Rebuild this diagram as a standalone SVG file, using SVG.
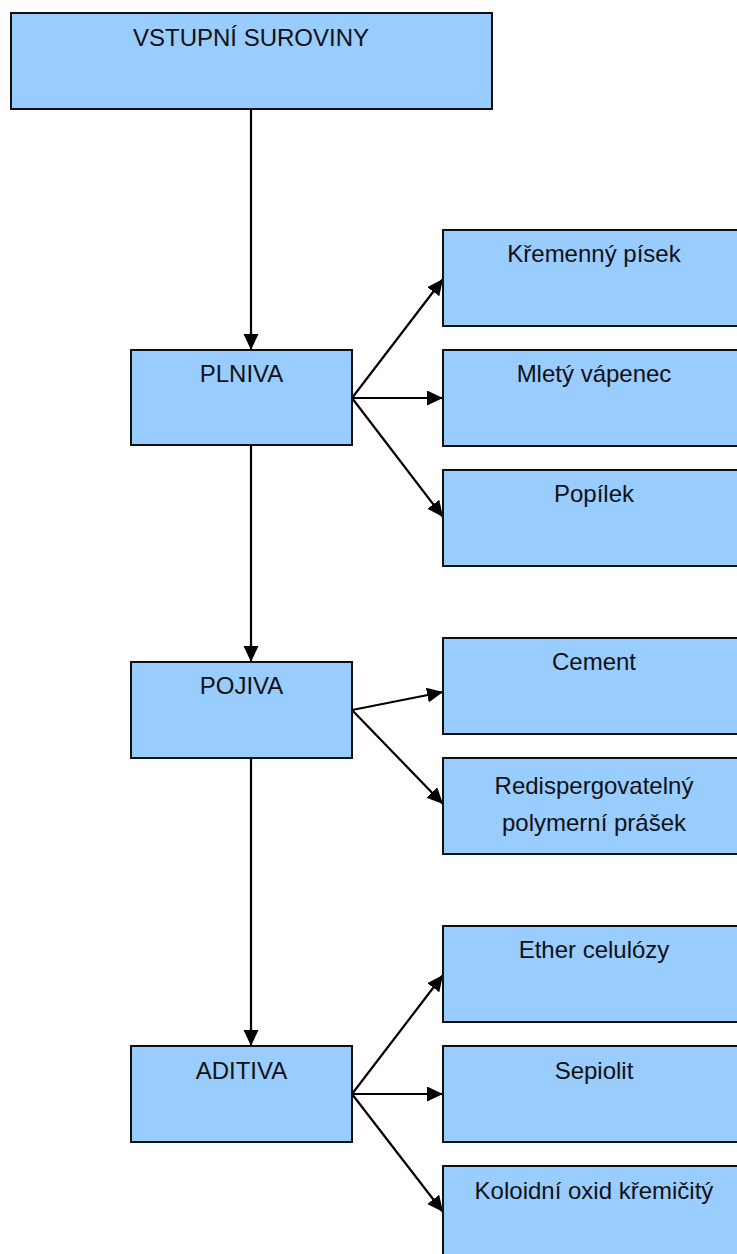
<svg xmlns="http://www.w3.org/2000/svg" width="737" height="1254" viewBox="0 0 737 1254">
<style>
.box{fill:#99CCFF;stroke:#111;stroke-width:2}
.lbl{font-family:"Liberation Sans",Arial,sans-serif;font-size:24px;fill:#111;text-anchor:middle}
.edge{stroke:#000;stroke-width:2.2;fill:none;marker-end:url(#ah)}
</style>
<defs>
<marker id="ah" markerUnits="userSpaceOnUse" markerWidth="17" markerHeight="16" refX="16" refY="7.5" orient="auto">
<path d="M0,0 L16,7.5 L0,15 z" fill="#000"/>
</marker>
</defs>
<rect width="737" height="1254" fill="#fff"/>
<g id="connectors">
<line class="edge" x1="251" y1="109" x2="251" y2="350"/>
<line class="edge" x1="251" y1="445" x2="251" y2="662"/>
<line class="edge" x1="251" y1="758" x2="251" y2="1046"/>
<line class="edge" x1="352" y1="398" x2="443" y2="279"/>
<line class="edge" x1="352" y1="398" x2="443" y2="398"/>
<line class="edge" x1="352" y1="398" x2="443" y2="517"/>
<line class="edge" x1="352" y1="710" x2="443" y2="692"/>
<line class="edge" x1="352" y1="710" x2="443" y2="804"/>
<line class="edge" x1="352" y1="1094" x2="443" y2="975"/>
<line class="edge" x1="352" y1="1094" x2="443" y2="1094"/>
<line class="edge" x1="352" y1="1094" x2="443" y2="1212"/>
</g>
<g id="vstupni"><rect class="box" x="11" y="13" width="481" height="96"/><text class="lbl" x="251" y="46">VSTUPNÍ SUROVINY</text></g>
<g id="plniva"><rect class="box" x="131" y="350" width="221" height="95"/><text class="lbl" x="241.5" y="382">PLNIVA</text></g>
<g id="pojiva"><rect class="box" x="131" y="662" width="221" height="96"/><text class="lbl" x="241.5" y="694">POJIVA</text></g>
<g id="aditiva"><rect class="box" x="131" y="1046" width="221" height="96"/><text class="lbl" x="241.5" y="1079">ADITIVA</text></g>
<g id="kremenny"><rect class="box" x="443" y="230" width="302" height="96"/><text class="lbl" x="594" y="262">Křemenný písek</text></g>
<g id="mlety"><rect class="box" x="443" y="350" width="302" height="96"/><text class="lbl" x="594" y="382">Mletý vápenec</text></g>
<g id="popilek"><rect class="box" x="443" y="470" width="302" height="96"/><text class="lbl" x="594" y="502">Popílek</text></g>
<g id="cement"><rect class="box" x="443" y="638" width="302" height="96"/><text class="lbl" x="594" y="670">Cement</text></g>
<g id="redisp"><rect class="box" x="443" y="758" width="302" height="96"/><text class="lbl" x="594" y="794">Redispergovatelný</text><text class="lbl" x="594" y="831">polymerní prášek</text></g>
<g id="ether"><rect class="box" x="443" y="926" width="302" height="96"/><text class="lbl" x="594" y="958">Ether celulózy</text></g>
<g id="sepiolit"><rect class="box" x="443" y="1046" width="302" height="96"/><text class="lbl" x="594" y="1079">Sepiolit</text></g>
<g id="koloidni"><rect class="box" x="443" y="1166" width="302" height="96"/><text class="lbl" x="594" y="1199">Koloidní oxid křemičitý</text></g>
</svg>
